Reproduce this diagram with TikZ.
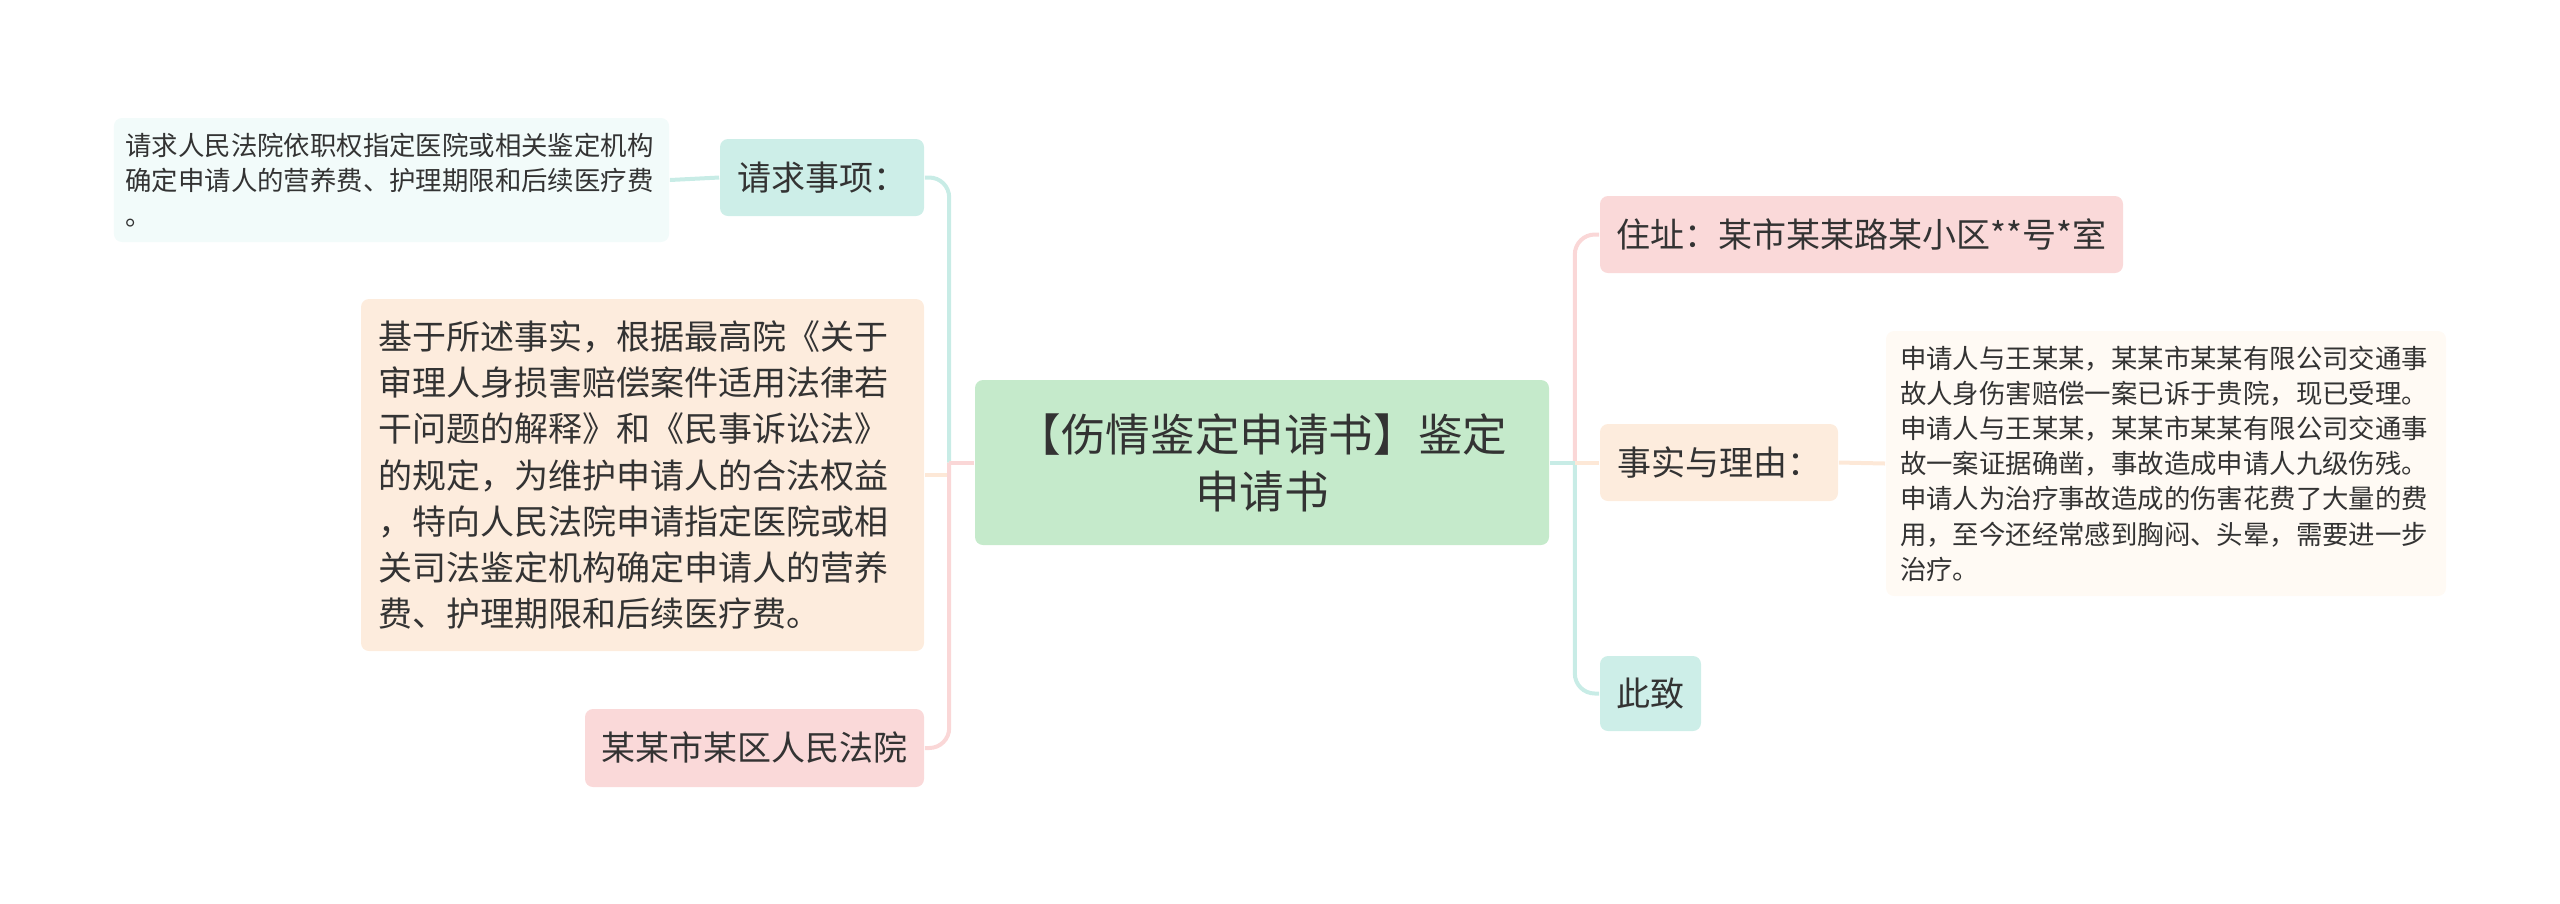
\documentclass[tikz,border=0pt]{standalone}
\usepackage{fontspec}
\setmainfont{Noto Sans CJK SC}
\usepackage{tikz}
\usetikzlibrary{positioning}
\usepackage{xcolor}
\definecolor{ink}{RGB}{51,51,51}
\definecolor{rootgreen}{RGB}{197,234,203}
\definecolor{softteal}{RGB}{205,238,232}
\definecolor{softpink}{RGB}{250,217,217}
\definecolor{softpeach}{RGB}{253,236,221}
\definecolor{paleteal}{RGB}{242,251,250}
\definecolor{palepeach}{RGB}{255,250,244}
\definecolor{tealline}{RGB}{200,236,230}
\definecolor{pinkline}{RGB}{250,215,215}
\definecolor{peachline}{RGB}{253,232,215}

\begin{document}
\begin{tikzpicture}[x=0.25pt, y=-0.25pt,
  box/.style={rounded corners=2pt, inner sep=0pt, text=ink, align=center},
  big/.style={font=\fontsize{11.15pt}{14.3pt}\selectfont},
  mid/.style={font=\fontsize{8.5pt}{11.55pt}\selectfont},
  small/.style={font=\fontsize{6.6pt}{8.8pt}\selectfont},
  link/.style={line width=1pt},
  curvelink/.style={link, rounded corners=5pt}]
  \useasboundingbox (0,0) rectangle (2560,903);
  % centre
  \node[box, big, fill=rootgreen, minimum width=143.5pt, minimum height=41.25pt] (root) at (1262,462.5) {【伤情鉴定申请书】鉴定\\申请书};
  % left side
  \node[box, mid, fill=softteal, minimum width=51pt, minimum height=19.25pt] (ask) at (822,177.5) {请求事项：};
  \node[box, small, fill=paleteal, align=left, text width=133pt, inner xsep=2.9pt, minimum height=31pt] (askleaf) at (391.5,180) {请求人民法院依职权指定医院或相关鉴定机构\\确定申请人的营养费、护理期限和后续医疗费\\。};
  \node[box, mid, fill=softpeach, align=left, text width=132.25pt, inner xsep=4.25pt, minimum height=88pt] (basis) at (642.5,475) {基于所述事实，根据最高院《关于\\审理人身损害赔偿案件适用法律若\\干问题的解释》和《民事诉讼法》\\的规定，为维护申请人的合法权益\\，特向人民法院申请指定医院或相\\关司法鉴定机构确定申请人的营养\\费、护理期限和后续医疗费。};
  \node[box, mid, fill=softpink, minimum width=84.75pt, minimum height=19.5pt] (court) at (754.5,748) {某某市某区人民法院};
  % right side
  \node[box, mid, fill=softpink, minimum width=130.75pt, minimum height=19.25pt] (addr) at (1861.5,234.5) {住址：某市某某路某小区**号*室};
  \node[box, mid, fill=softpeach, minimum width=59.5pt, minimum height=19.25pt] (facts) at (1719,462.5) {事实与理由：};
  \node[box, small, fill=palepeach, align=left, text width=133pt, inner xsep=3.5pt, minimum height=66.25pt] (factsleaf) at (2166,463.5) {申请人与王某某，某某市某某有限公司交通事\\故人身伤害赔偿一案已诉于贵院，现已受理。\\申请人与王某某，某某市某某有限公司交通事\\故一案证据确凿，事故造成申请人九级伤残。\\申请人为治疗事故造成的伤害花费了大量的费\\用，至今还经常感到胸闷、头晕，需要进一步\\治疗。};
  \node[box, mid, fill=softteal, minimum width=25.25pt, minimum height=18.75pt] (regards) at (1650.5,693.5) {此致};
  % trunks
  \coordinate (ltrunk) at ([xshift=-6.25pt]root.west);
  \coordinate (rtrunk) at ([xshift=6.25pt]root.east);
  % connectors, left
  \draw[curvelink, tealline] (ltrunk) |- (ask.east);
  \draw[link, peachline] (ltrunk) |- (basis.east);
  \draw[curvelink, pinkline] (ltrunk) |- (court.east);
  \draw[link, pinkline] (root.west) -- (ltrunk);
  \draw[link, tealline] (ask.west) -- (askleaf.east);
  % connectors, right
  \draw[curvelink, pinkline] (rtrunk) |- (addr.west);
  \draw[curvelink, tealline] (rtrunk) |- (regards.west);
  \draw[link, peachline] (rtrunk) -- (facts.west);
  \draw[link, tealline] (root.east) -- (rtrunk);
  \draw[link, peachline] (facts.east) -- (factsleaf.west);
\end{tikzpicture}
\end{document}
